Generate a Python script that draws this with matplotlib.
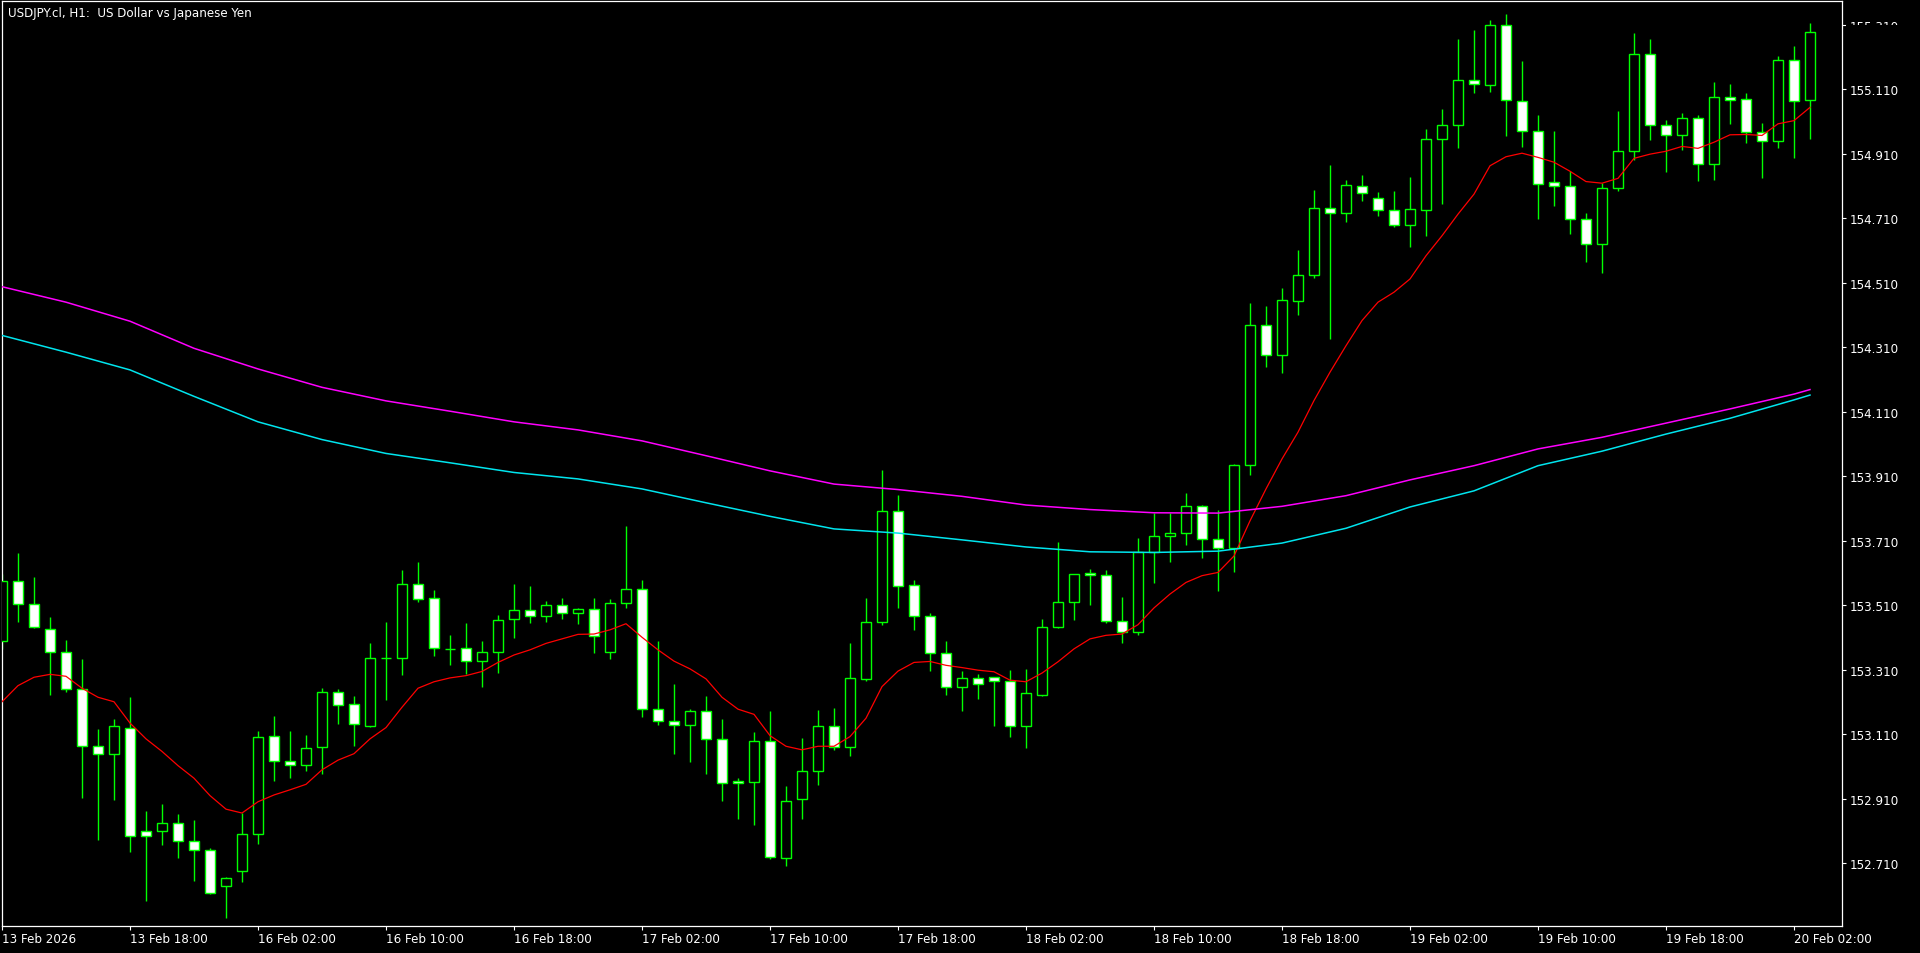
import numpy as np
import matplotlib
matplotlib.use("Agg")
import matplotlib.pyplot as plt
from matplotlib.patches import Rectangle

title = "USDJPY.cl, H1:  US Dollar vs Japanese Yen"

# hourly candles, 13 Feb 10:00 -> 20 Feb 03:00
opens = [153.398, 153.585, 153.512, 153.436, 153.363, 153.249, 153.072, 153.047, 153.128, 152.808,
         152.808, 152.833, 152.779, 152.749, 152.638, 152.684, 152.799, 153.103, 153.025, 153.013,
         153.069, 153.239, 153.202, 153.136, 153.345, 153.345, 153.574, 153.531, 153.375, 153.376,
         153.335, 153.363, 153.466, 153.495, 153.475, 153.509, 153.484, 153.497, 153.363, 153.515,
         153.559, 153.187, 153.149, 153.137, 153.180, 153.094, 152.963, 152.960, 153.087, 152.725,
         152.908, 152.994, 153.134, 153.069, 153.280, 153.456, 153.801, 153.571, 153.475, 153.360,
         153.255, 153.283, 153.286, 153.273, 153.134, 153.232, 153.441, 153.518, 153.608, 153.602,
         153.459, 153.425, 153.673, 153.723, 153.732, 153.816, 153.714, 153.686, 153.943, 154.377,
         154.284, 154.454, 154.534, 154.740, 154.725, 154.808, 154.771, 154.734, 154.687, 154.734,
         154.954, 154.997, 155.137, 155.121, 155.308, 155.072, 154.979, 154.821, 154.808, 154.706,
         154.628, 154.802, 154.917, 155.218, 154.997, 154.966, 155.019, 154.877, 155.084, 155.078,
         154.976, 154.948, 155.199, 155.075]
highs = [153.606, 153.671, 153.596, 153.472, 153.401, 153.343, 153.126, 153.157, 153.224, 152.870,
         152.892, 152.861, 152.842, 152.756, 152.668, 152.864, 153.119, 153.166, 153.119, 153.107,
         153.252, 153.250, 153.227, 153.391, 153.456, 153.619, 153.643, 153.557, 153.417, 153.454,
         153.397, 153.479, 153.575, 153.569, 153.522, 153.532, 153.500, 153.532, 153.529, 153.756,
         153.588, 153.397, 153.264, 153.188, 153.227, 153.156, 152.973, 153.115, 153.182, 152.948,
         153.097, 153.183, 153.190, 153.392, 153.532, 153.929, 153.851, 153.588, 153.485, 153.398,
         153.305, 153.296, 153.287, 153.308, 153.312, 153.466, 153.705, 153.605, 153.622, 153.619,
         153.535, 153.718, 153.796, 153.796, 153.857, 153.819, 153.804, 153.947, 154.446, 154.437,
         154.493, 154.611, 154.797, 154.874, 154.828, 154.843, 154.791, 154.794, 154.837, 154.986,
         155.048, 155.264, 155.293, 155.324, 155.343, 155.196, 155.029, 154.980, 154.855, 154.726,
         154.818, 155.042, 155.284, 155.264, 155.013, 155.035, 155.028, 155.131, 155.125, 155.097,
         155.004, 155.211, 155.242, 155.314]
lows = [153.374, 153.456, 153.439, 153.232, 153.241, 152.912, 152.782, 152.906, 152.743, 152.593,
        152.767, 152.726, 152.655, 152.614, 152.539, 152.652, 152.770, 152.965, 152.973, 152.996,
        152.987, 153.141, 153.074, 153.133, 153.216, 153.294, 153.518, 153.353, 153.325, 153.296,
        153.257, 153.300, 153.409, 153.455, 153.458, 153.468, 153.451, 153.362, 153.344, 153.501,
        153.164, 153.139, 153.049, 153.024, 152.987, 152.903, 152.847, 152.829, 152.722, 152.700,
        152.847, 152.953, 153.061, 153.042, 153.275, 153.449, 153.501, 153.433, 153.306, 153.232,
        153.182, 153.219, 153.136, 153.102, 153.068, 153.227, 153.438, 153.464, 153.511, 153.455,
        153.393, 153.418, 153.579, 153.644, 153.697, 153.657, 153.554, 153.613, 153.914, 154.249,
        154.230, 154.410, 154.525, 154.336, 154.699, 154.764, 154.717, 154.683, 154.621, 154.655,
        154.754, 154.928, 155.099, 155.102, 154.965, 154.931, 154.708, 154.748, 154.661, 154.575,
        154.540, 154.795, 154.891, 154.953, 154.854, 154.922, 154.826, 154.829, 155.002, 154.944,
        154.835, 154.926, 154.897, 154.956]
closes = [153.584, 153.512, 153.441, 153.363, 153.249, 153.072, 153.047, 153.134, 152.793, 152.793,
          152.833, 152.779, 152.749, 152.616, 152.663, 152.799, 153.100, 153.025, 153.013, 153.066,
          153.239, 153.199, 153.140, 153.345, 153.346, 153.574, 153.528, 153.376, 153.373, 153.335,
          153.363, 153.463, 153.495, 153.475, 153.509, 153.484, 153.499, 153.415, 153.515, 153.559,
          153.187, 153.149, 153.137, 153.180, 153.094, 152.957, 152.957, 153.087, 152.728, 152.901,
          152.994, 153.134, 153.069, 153.283, 153.456, 153.801, 153.568, 153.475, 153.360, 153.255,
          153.283, 153.264, 153.273, 153.134, 153.236, 153.441, 153.518, 153.605, 153.602, 153.459,
          153.425, 153.673, 153.723, 153.732, 153.816, 153.714, 153.686, 153.943, 154.377, 154.284,
          154.455, 154.533, 154.740, 154.725, 154.811, 154.787, 154.734, 154.687, 154.737, 154.954,
          154.997, 155.137, 155.125, 155.308, 155.075, 154.979, 154.815, 154.808, 154.706, 154.628,
          154.802, 154.917, 155.218, 154.997, 154.966, 155.019, 154.877, 155.084, 155.075, 154.976,
          154.948, 155.199, 155.072, 155.286]

# red moving average, one value per candle
ma_red = [153.210, 153.260, 153.286, 153.295, 153.289, 153.252, 153.224, 153.210, 153.144, 153.095,
          153.056, 153.012, 152.973, 152.919, 152.877, 152.865, 152.900, 152.921, 152.937, 152.954,
          152.999, 153.029, 153.049, 153.095, 153.130, 153.193, 153.252, 153.272, 153.284, 153.291,
          153.304, 153.332, 153.355, 153.371, 153.391, 153.405, 153.419, 153.420, 153.433, 153.452,
          153.410, 153.371, 153.336, 153.312, 153.281, 153.224, 153.187, 153.171, 153.105, 153.072,
          153.061, 153.072, 153.072, 153.102, 153.159, 153.257, 153.305, 153.332, 153.335, 153.323,
          153.316, 153.308, 153.303, 153.277, 153.272, 153.299, 153.334, 153.374, 153.405, 153.416,
          153.420, 153.449, 153.501, 153.544, 153.580, 153.601, 153.611, 153.662, 153.771, 153.870,
          153.963, 154.046, 154.144, 154.232, 154.314, 154.392, 154.449, 154.480, 154.521, 154.593,
          154.655, 154.722, 154.784, 154.872, 154.900, 154.911, 154.898, 154.883, 154.855, 154.823,
          154.818, 154.833, 154.895, 154.908, 154.917, 154.932, 154.926, 154.945, 154.968, 154.969,
          154.966, 155.002, 155.012, 155.053]

# slow averages read every 4 bars
slow_bar = [0, 4, 8, 12, 16, 20, 24, 28, 32, 36, 40, 44, 48, 52, 56, 60, 64, 68, 72, 76,
            80, 84, 88, 92, 96, 100, 104, 108, 112, 113]
ma_magenta = [154.497, 154.449, 154.390, 154.306, 154.242, 154.185, 154.143, 154.111, 154.078, 154.053,
              154.019, 153.973, 153.926, 153.885, 153.868, 153.847, 153.820, 153.806, 153.796, 153.795,
              153.816, 153.849, 153.898, 153.942, 153.994, 154.030, 154.074, 154.118, 154.164, 154.178]
ma_cyan = [154.346, 154.294, 154.239, 154.157, 154.078, 154.023, 153.980, 153.951, 153.921, 153.901,
           153.870, 153.827, 153.785, 153.746, 153.733, 153.712, 153.690, 153.675, 153.673, 153.677,
           153.702, 153.748, 153.814, 153.864, 153.942, 153.987, 154.040, 154.089, 154.146, 154.161]

time_labels = ["13 Feb 2026", "13 Feb 18:00", "16 Feb 02:00", "16 Feb 10:00", "16 Feb 18:00",
               "17 Feb 02:00", "17 Feb 10:00", "17 Feb 18:00", "18 Feb 02:00", "18 Feb 10:00",
               "18 Feb 18:00", "19 Feb 02:00", "19 Feb 10:00", "19 Feb 18:00", "20 Feb 02:00"]
price_ticks = [152.71, 152.91, 153.11, 153.31, 153.51, 153.71, 153.91, 154.11, 154.31, 154.51,
               154.71, 154.91, 155.11, 155.31]

GREEN = "#00ff00"
FS = 8.6
W, H = 1920, 954

fig = plt.figure(figsize=(W / 100, H / 100), dpi=100, facecolor="black")
# plot frame in pixels: x 2..1842, y 2..927 (from top)
ax = fig.add_axes([2 / W, (H - 927) / H, 1840 / W, 925 / H], facecolor="black")

idx = np.arange(len(opens))
o = np.array(opens)
c = np.array(closes)
up = c >= o

ax.vlines(idx, lows, highs, color=GREEN, lw=1.0, zorder=2)
ax.bar(idx, np.maximum(np.abs(c - o), 0.0008), bottom=np.minimum(o, c), width=0.62,
       color=np.where(up, "black", "white"), edgecolor=GREEN, linewidth=1.0, zorder=3)

ax.plot(idx, ma_red, color="#ff0000", lw=0.9, zorder=4)
ax.plot(slow_bar, ma_magenta, color="#ff00ff", lw=1.1, zorder=4)
ax.plot(slow_bar, ma_cyan, color="#00e5ee", lw=1.1, zorder=4)

ax.set_xlim(0, 115)
ax.set_ylim(152.5147, 155.3829)

ax.set_xticks(np.arange(0, 113, 8))
ax.set_xticklabels(time_labels, ha="left")
ax.yaxis.tick_right()
ax.set_yticks(price_ticks)
ax.set_yticklabels(["%.3f" % p for p in price_ticks])
ax.tick_params(axis="both", colors="white", labelcolor="white", labelsize=FS,
               direction="out", length=3, width=0.8)
ax.tick_params(axis="x", pad=1.5)
ax.tick_params(axis="y", pad=2.2)
for s in ax.spines.values():
    s.set_color("white")
    s.set_linewidth(0.9)

fig.text(8 / W, 1 - 13 / H, title, color="white", fontsize=FS, va="center", ha="left")

# lower half of the top price label is hidden by the (black) bid label in the terminal
fig.patches.append(Rectangle((1846 / W, 1 - 41 / H), 74 / W, 15.5 / H,
                             transform=fig.transFigure, facecolor="black",
                             edgecolor="none", zorder=10))

fig.savefig("out.png", dpi=100, facecolor="black")
